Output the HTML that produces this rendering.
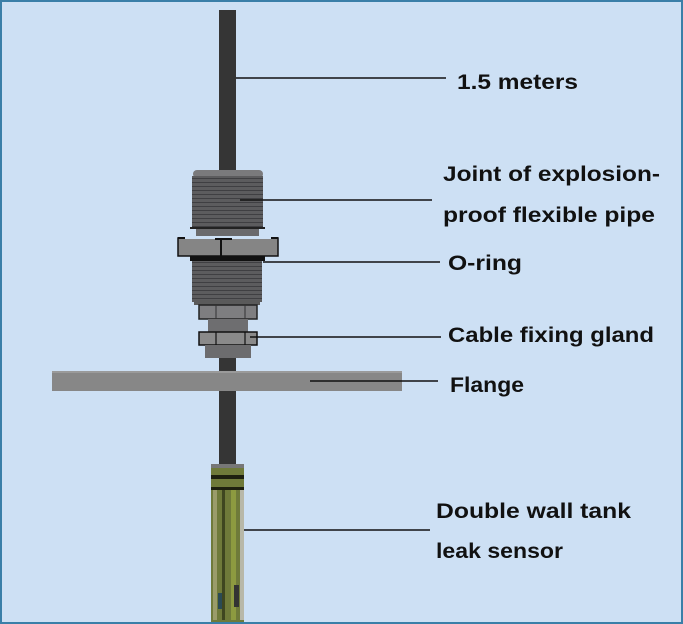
<!DOCTYPE html>
<html><head><style>
html,body{margin:0;padding:0}
body{width:683px;height:624px;overflow:hidden;background:#cde0f4}
</style></head><body>
<svg width="683" height="624" xmlns="http://www.w3.org/2000/svg" style="display:block">
<defs>
<pattern id="thr" width="4" height="4" patternUnits="userSpaceOnUse">
<rect width="4" height="4" fill="#5c5c5e"/><rect y="2" width="4" height="1" fill="#3f3f42"/>
</pattern>
</defs>
<rect x="0" y="0" width="683" height="624" fill="#cde0f4"/>
<rect x="1" y="1" width="681" height="622" fill="none" stroke="#3a7fa8" stroke-width="2"/>
<!-- cable -->
<rect x="219" y="10" width="17" height="460" fill="#353535"/>
<!-- joint top -->
<rect x="193" y="170" width="70" height="8" rx="4" fill="#7a7a7c"/>
<rect x="192" y="176" width="71" height="52" fill="url(#thr)"/>
<rect x="190" y="227" width="75" height="2" fill="#222"/>
<rect x="196" y="229" width="63" height="10" fill="#6a6a6c"/>
<!-- hex nut -->
<rect x="178" y="238" width="100" height="18" fill="#858585" stroke="#111" stroke-width="1.5"/>
<rect x="185" y="236" width="86" height="3" fill="#cde0f4"/>
<line x1="178" y1="238" x2="185" y2="238" stroke="#111" stroke-width="2"/>
<line x1="271" y1="238" x2="278" y2="238" stroke="#111" stroke-width="2"/>
<line x1="215" y1="239" x2="232" y2="239" stroke="#111" stroke-width="2"/>
<line x1="221" y1="239" x2="221" y2="256" stroke="#111" stroke-width="2"/>
<!-- o-ring -->
<rect x="190" y="256" width="75" height="5" fill="#111"/>
<!-- lower thread -->
<rect x="192" y="261" width="70" height="41" fill="url(#thr)"/>
<rect x="194" y="300" width="66" height="5" fill="#5a5a5a"/>
<!-- small nut -->
<rect x="199" y="305" width="58" height="14" fill="#7e7e80" stroke="#222" stroke-width="1.5"/>
<line x1="216" y1="305" x2="216" y2="319" stroke="#333"/>
<line x1="245" y1="305" x2="245" y2="319" stroke="#333"/>
<rect x="208" y="319" width="40" height="14" fill="#6e6e70"/>
<!-- gland nut -->
<rect x="199" y="332" width="58" height="13" fill="#8a8a8a" stroke="#111" stroke-width="1.5"/>
<line x1="216" y1="332" x2="216" y2="345" stroke="#111" stroke-width="1.2"/>
<line x1="245" y1="332" x2="245" y2="345" stroke="#111" stroke-width="1.2"/>
<rect x="205" y="345" width="46" height="13" fill="#6c6c6e"/>
<!-- flange -->
<rect x="52" y="371" width="350" height="20" fill="#878787"/>
<rect x="52" y="371" width="350" height="2" fill="#9a9a9a"/>
<!-- sensor -->
<rect x="211" y="464" width="33" height="158" fill="#6f7a3a"/>
<rect x="211" y="464" width="33" height="4" fill="#777"/>
<rect x="211" y="475" width="33" height="4" fill="#1e2010"/>
<rect x="211" y="487" width="33" height="3" fill="#1e2010"/>
<rect x="213" y="490" width="4" height="130" fill="#9a9c6a"/>
<rect x="222" y="490" width="3" height="130" fill="#3f4620"/>
<rect x="231" y="490" width="5" height="130" fill="#8d9a40"/>
<rect x="240" y="490" width="4" height="130" fill="#b8b8a8"/>
<rect x="218" y="593" width="4" height="16" fill="#2a4a55"/>
<rect x="234" y="585" width="5" height="22" fill="#333"/>
<!-- leader lines -->
<g stroke="#111" stroke-width="1.5">
<line x1="236" y1="78" x2="446" y2="78"/>
<line x1="240" y1="200" x2="432" y2="200"/>
<line x1="263" y1="262" x2="440" y2="262"/>
<line x1="250" y1="337" x2="441" y2="337"/>
<line x1="310" y1="381" x2="438" y2="381"/>
<line x1="244" y1="530" x2="430" y2="530"/>
</g>
<g font-family="'Liberation Sans',sans-serif" font-weight="bold" font-size="21" fill="#111">
<text x="457" y="89" textLength="121" lengthAdjust="spacingAndGlyphs">1.5 meters</text>
<text x="443" y="181" textLength="217" lengthAdjust="spacingAndGlyphs">Joint of explosion-</text>
<text x="443" y="222" textLength="212" lengthAdjust="spacingAndGlyphs">proof flexible pipe</text>
<text x="448" y="270" textLength="74" lengthAdjust="spacingAndGlyphs">O-ring</text>
<text x="448" y="342" textLength="206" lengthAdjust="spacingAndGlyphs">Cable fixing gland</text>
<text x="450" y="392" textLength="74" lengthAdjust="spacingAndGlyphs">Flange</text>
<text x="436" y="518" textLength="195" lengthAdjust="spacingAndGlyphs">Double wall tank</text>
<text x="436" y="558" textLength="127" lengthAdjust="spacingAndGlyphs">leak sensor</text>
</g>
</svg>
</body></html>
